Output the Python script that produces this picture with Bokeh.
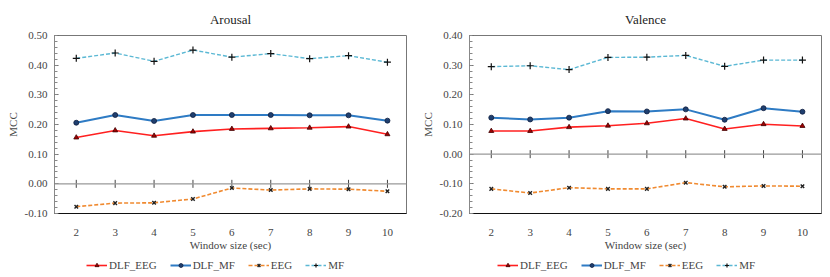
import math
from bokeh.plotting import figure
from bokeh.layouts import row, column
from bokeh.models import (FixedTicker, Span, Legend, LegendItem,
                          Range1d, NumeralTickFormatter)
from bokeh.embed import file_html
from bokeh.resources import INLINE

window = [2, 3, 4, 5, 6, 7, 8, 9, 10]

arousal_dlf_eeg = [0.156, 0.180, 0.162, 0.176, 0.185, 0.187, 0.189, 0.193, 0.167]
arousal_dlf_mf = [0.206, 0.232, 0.212, 0.232, 0.232, 0.232, 0.231, 0.231, 0.213]
arousal_eeg = [-0.077, -0.065, -0.064, -0.051, -0.014, -0.021, -0.017, -0.018, -0.025]
arousal_mf = [0.423, 0.441, 0.413, 0.451, 0.427, 0.439, 0.422, 0.432, 0.410]

valence_dlf_eeg = [0.078, 0.078, 0.091, 0.096, 0.104, 0.120, 0.085, 0.101, 0.095]
valence_dlf_mf = [0.123, 0.117, 0.123, 0.145, 0.144, 0.151, 0.116, 0.155, 0.143]
valence_eeg = [-0.117, -0.131, -0.113, -0.117, -0.117, -0.096, -0.110, -0.107, -0.108]
valence_mf = [0.295, 0.298, 0.285, 0.326, 0.327, 0.333, 0.296, 0.317, 0.317]

arousal_ticks = [-0.10, 0.00, 0.10, 0.20, 0.30, 0.40, 0.50]
valence_ticks = [-0.20, -0.10, 0.00, 0.10, 0.20, 0.30, 0.40]

series_names = ["DLF_EEG", "DLF_MF", "EEG", "MF"]

FONT = "Liberation Serif"

STYLES = {
    "DLF_EEG": dict(line=dict(line_color="#FF2020", line_width=1.6),
                    mark=dict(marker="triangle", size=5, fill_color="#A00000",
                              line_color="#400000", line_width=0.8)),
    "DLF_MF": dict(line=dict(line_color="#2E7BC4", line_width=2),
                   mark=dict(marker="circle", size=5, fill_color="#1F3F6F",
                             line_color="#102040", line_width=0.8)),
    "EEG": dict(line=dict(line_color="#F08A30", line_width=1.6, line_dash="4 2"),
                mark=dict(marker="x", size=5, line_color="#222222", line_width=1.4)),
    "MF": dict(line=dict(line_color="#5BB8D4", line_width=1.4, line_dash="4 2"),
               mark=dict(marker="cross", size=7, line_color="#111111", line_width=1.2)),
}


def make_panel(title, ymin, ymax, yticks, values):
    p = figure(width=415, height=253, output_backend="svg", toolbar_location=None,
               x_range=Range1d(1.44, 10.49), y_range=Range1d(ymin, ymax),
               min_border_left=54, min_border_right=9,
               min_border_top=32, min_border_bottom=40)
    p.title.text = title
    p.title.text_font = FONT
    p.title.text_font_size = "13px"
    p.title.text_font_style = "normal"
    p.title.align = "center"
    p.title.standoff = 18
    p.title.text_color = "#222222"
    p.xgrid.visible = False
    p.ygrid.visible = False
    p.outline_line_color = "#777777"
    p.background_fill_color = "white"
    p.border_fill_color = "white"

    xa = p.xaxis[0]
    xa.ticker = FixedTicker(ticks=window)
    xa.axis_label = "Window size (sec)"
    xa.axis_label_text_font = FONT
    xa.axis_label_text_font_style = "normal"
    xa.axis_label_text_font_size = "11px"
    xa.axis_label_standoff = 0
    xa.major_label_text_font = FONT
    xa.major_label_text_font_size = "11px"
    xa.major_label_standoff = 9
    xa.major_tick_line_color = None
    xa.minor_tick_line_color = None
    xa.axis_line_color = "#111111"

    ya = p.yaxis[0]
    steps = int(round((ymax - ymin) / 0.02))
    minor = [round(ymin + i * 0.02, 2) for i in range(steps + 1)]
    ya.ticker = FixedTicker(ticks=yticks, minor_ticks=minor)
    ya.formatter = NumeralTickFormatter(format="0.00")
    ya.axis_label = "MCC"
    ya.axis_label_text_font = FONT
    ya.axis_label_text_font_style = "normal"
    ya.axis_label_text_font_size = "11px"
    ya.axis_label_standoff = 3
    ya.major_label_text_font = FONT
    ya.major_label_text_font_size = "11px"
    ya.major_label_standoff = 7
    ya.major_tick_in = 4
    ya.major_tick_out = 0
    ya.minor_tick_in = 3
    ya.minor_tick_out = 0
    ya.axis_line_color = "#888888"
    ya.major_tick_line_color = "#666666"
    ya.minor_tick_line_color = "#888888"

    p.add_layout(Span(location=0, dimension="width", line_color="#999999", line_width=1.2))
    p.scatter(window, [0] * len(window), marker="dash", angle=math.pi / 2, size=8,
              line_color="#444444", line_width=1)

    for name, vals in zip(series_names, values):
        p.line(window, vals, **STYLES[name]["line"])
        p.scatter(window, vals, **STYLES[name]["mark"])
    return p


def make_legend(legend_x, values):
    # series drawn outside the visible range; only the legend shows
    lf = figure(width=415, height=24, output_backend="svg", toolbar_location=None,
                x_range=Range1d(100, 101), y_range=Range1d(100, 101),
                min_border=0, outline_line_color=None)
    lf.axis.visible = False
    lf.xgrid.visible = False
    lf.ygrid.visible = False
    items = []
    for name, vals in zip(series_names, values):
        r1 = lf.line(window, vals, **STYLES[name]["line"])
        r2 = lf.scatter(window, vals, **STYLES[name]["mark"])
        items.append(LegendItem(label=name, renderers=[r1, r2]))
    legend = Legend(items=items, orientation="horizontal", location=(legend_x, 6),
                    label_text_font=FONT, label_text_font_size="11px",
                    glyph_width=21, glyph_height=10, label_standoff=2, spacing=13,
                    padding=0, margin=0, border_line_color=None, background_fill_alpha=0,
                    label_height=12)
    lf.add_layout(legend, "center")
    return lf


a_vals = [arousal_dlf_eeg, arousal_dlf_mf, arousal_eeg, arousal_mf]
v_vals = [valence_dlf_eeg, valence_dlf_mf, valence_eeg, valence_mf]
p1 = make_panel("Arousal", -0.10, 0.50, arousal_ticks, a_vals)
p2 = make_panel("Valence", -0.20, 0.40, valence_ticks, v_vals)
l1 = make_legend(86, a_vals)
l2 = make_legend(82, v_vals)

layout = column(row(p1, p2, spacing=0), row(l1, l2, spacing=0), spacing=0)
open("out.html", "w").write(file_html(layout, INLINE))
